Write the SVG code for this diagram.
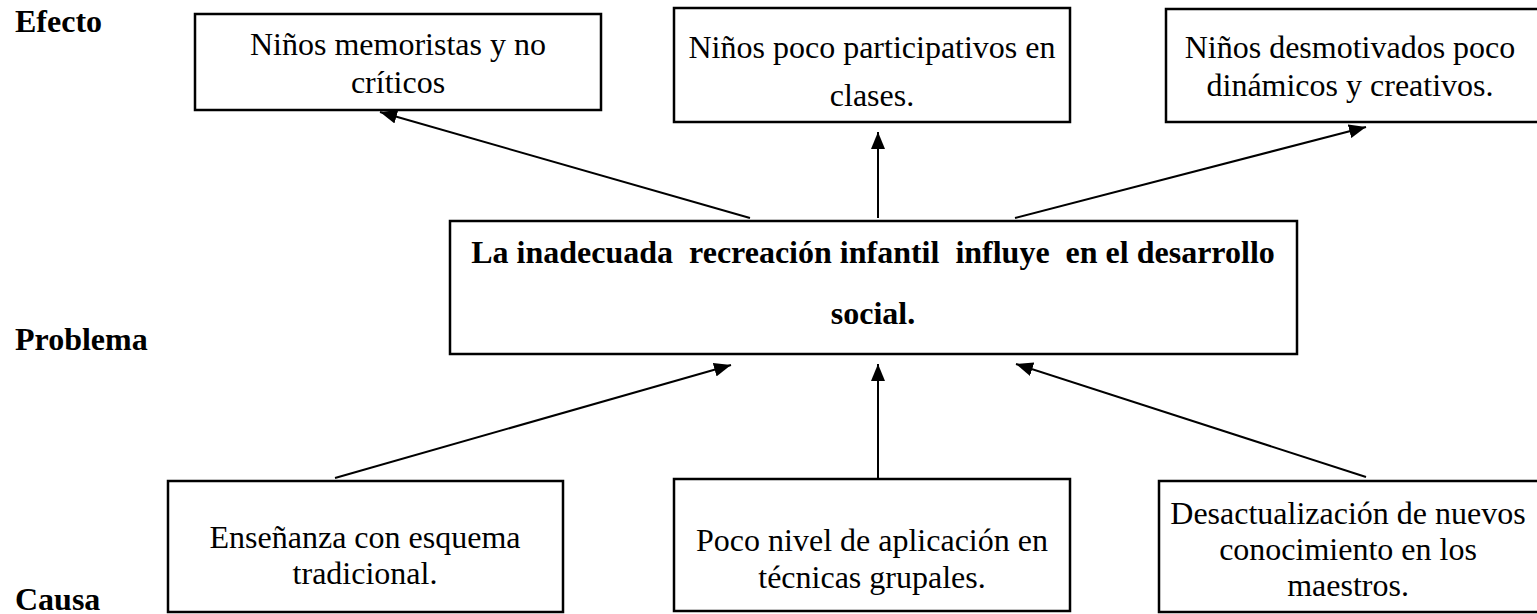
<svg xmlns="http://www.w3.org/2000/svg" width="1537" height="614" viewBox="0 0 1537 614">
<style>
.box{fill:#fff;stroke:#000;stroke-width:2.5}
.t{font-family:"Liberation Serif","Times New Roman",serif;font-size:32px;fill:#000;text-anchor:middle}
.b{font-family:"Liberation Serif","Times New Roman",serif;font-size:32px;font-weight:bold;fill:#000}
.c{font-family:"Liberation Serif","Times New Roman",serif;font-size:32px;font-weight:bold;fill:#000;text-anchor:middle;white-space:pre}
.ln{stroke:#000;stroke-width:2;fill:none;marker-end:url(#ah)}
</style>
<defs>
<marker id="ah" markerUnits="userSpaceOnUse" markerWidth="18" markerHeight="14" refX="17" refY="7" orient="auto">
<path d="M0,0 L17,7 L0,14 Z" fill="#000"/>
</marker>
</defs>
<rect width="1537" height="614" fill="#fff"/>
<g id="labels">
<text class="b" x="15" y="32">Efecto</text>
<text class="b" x="15" y="350">Problema</text>
<text class="b" x="15" y="610">Causa</text>
</g>
<g id="connectors">
<line class="ln" x1="750" y1="218" x2="380" y2="112"/>
<line class="ln" x1="878" y1="218" x2="878" y2="132"/>
<line class="ln" x1="1015" y1="218" x2="1366" y2="127"/>
<line class="ln" x1="335" y1="478" x2="731" y2="365"/>
<line class="ln" x1="878" y1="478" x2="878" y2="364"/>
<line class="ln" x1="1366" y1="477" x2="1016" y2="364"/>
</g>
<g id="effect1">
<rect class="box" x="195" y="14" width="406" height="96"/>
<text class="t" x="398" y="55">Niños memoristas y no</text>
<text class="t" x="398" y="93">críticos</text>
</g>
<g id="effect2">
<rect class="box" x="674" y="8" width="396" height="114"/>
<text class="t" x="872" y="58">Niños poco participativos en</text>
<text class="t" x="872" y="106">clases.</text>
</g>
<g id="effect3">
<rect class="box" x="1166" y="9" width="380" height="113"/>
<text class="t" x="1350" y="58">Niños desmotivados poco</text>
<text class="t" x="1350" y="96">dinámicos y creativos.</text>
</g>
<g id="problem">
<rect class="box" x="450" y="221" width="847" height="133"/>
<text class="c" x="873" y="263" xml:space="preserve">La inadecuada  recreación infantil  influye  en el desarrollo</text>
<text class="c" x="873" y="324">social.</text>
</g>
<g id="cause1">
<rect class="box" x="168" y="481" width="395" height="131"/>
<text class="t" x="365" y="548">Enseñanza con esquema</text>
<text class="t" x="365" y="584">tradicional.</text>
</g>
<g id="cause2">
<rect class="box" x="674" y="479" width="396" height="132"/>
<text class="t" x="872" y="551">Poco nivel de aplicación en</text>
<text class="t" x="872" y="588">técnicas grupales.</text>
</g>
<g id="cause3">
<rect class="box" x="1159" y="481" width="390" height="131"/>
<text class="t" x="1348" y="524">Desactualización de nuevos</text>
<text class="t" x="1348" y="560">conocimiento en los</text>
<text class="t" x="1348" y="596">maestros.</text>
</g>
</svg>
